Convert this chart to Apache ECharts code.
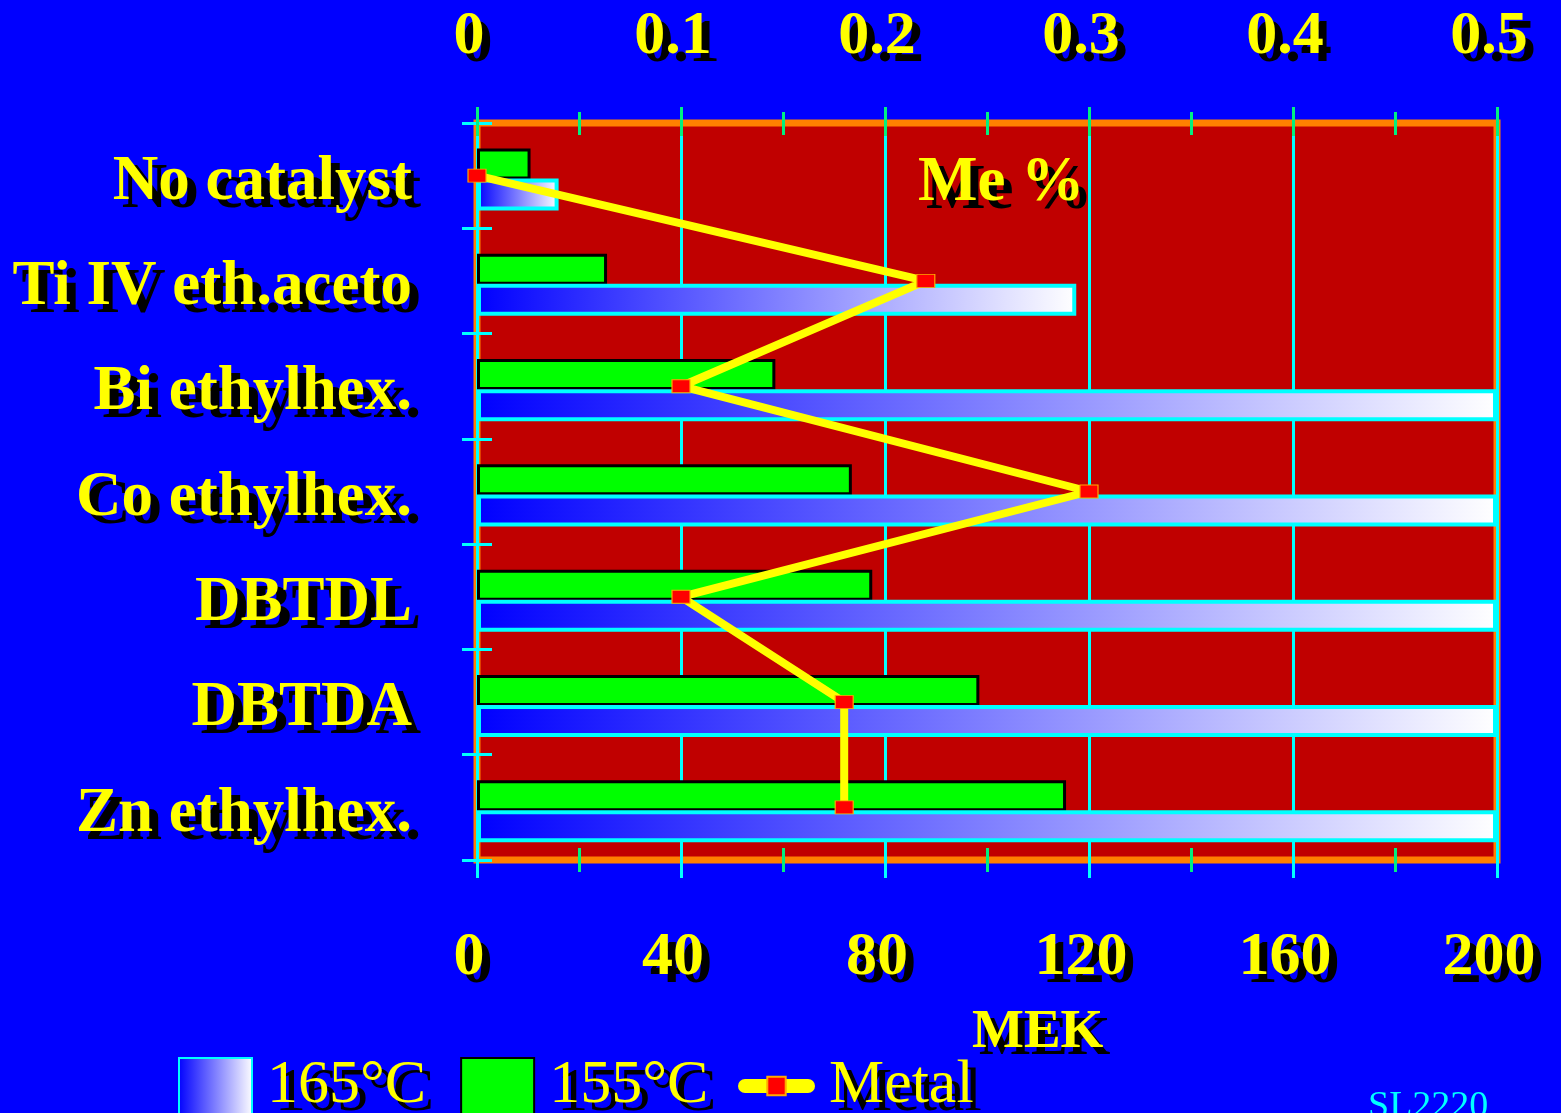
<!DOCTYPE html>
<html><head><meta charset="utf-8">
<script src="https://cdn.jsdelivr.net/npm/echarts@6/dist/echarts.min.js"></script>
<style>html,body{margin:0;padding:0;background:#0000ff;}#c{width:1561px;height:1113px;}</style>
</head><body><div id="c"></div>
<script>
const categories = ['No catalyst','Ti IV eth.aceto','Bi ethylhex.','Co ethylhex.','DBTDL','DBTDA','Zn ethylhex.'];
const mek165 = [16, 117.5, 200, 200, 200, 200, 200];
const mek155 = [10.5, 25.5, 58.5, 73.5, 77.5, 98.5, 115.5];
const metalPct = [0, 0.22, 0.1, 0.3, 0.1, 0.18, 0.18];
const seriesNames = ['165°C', '155°C', 'Metal'];
const spacer = [0, 0, 0, 0, 0, 0, 0];

const FONT = '"Liberation Serif", "Times New Roman", serif';
const YEL = '#ffff00';
const sh = (dx, dy) => ({textShadowColor:'#000', textShadowOffsetX:dx, textShadowOffsetY:dy, textShadowBlur:0.01});
const CYAN = '#00ffff', GRN = '#00f080';

const chart = echarts.init(document.getElementById('c'), null, {renderer:'canvas'});
const hidden = {axisLabel:{show:false}, axisLine:{show:false}, splitLine:{show:false}};
const legendText = Object.assign({fontSize:62, color:YEL, fontFamily:FONT}, sh(8, 8));
const catStyle = Object.assign({fontSize:63, fontWeight:'bold', color:YEL, fontFamily:FONT, lineHeight:66}, sh(9, 8));
chart.setOption({
  backgroundColor:'#0000ff',
  animation:false,
  grid:{left:477, right:64, top:123, bottom:253, show:true, backgroundColor:'#c00000', borderColor:'#ff8000', borderWidth:7},
  legend:[
    {left:178, top:1055, padding:0, itemWidth:73, itemHeight:56, itemGap:34,
     data:[{name:seriesNames[0], icon:'rect'}, {name:seriesNames[1], icon:'rect'}],
     textStyle:Object.assign({padding:[0,0,0,10]}, legendText)},
    {left:738, top:1055, padding:0, itemWidth:63, itemHeight:23,
     data:[{name:seriesNames[2]}],
     lineStyle:{width:14, cap:'round'},
     textStyle:Object.assign({padding:[0,0,0,16]}, legendText)}
  ],
  xAxis:[
    {type:'value', position:'bottom', min:0, max:200, interval:40,
     axisLine:{show:false},
     axisTick:{show:true, length:18, lineStyle:{color:CYAN, width:3}},
     minorTick:{show:true, splitNumber:2, length:12, lineStyle:{color:GRN, width:3}},
     splitLine:{show:true, lineStyle:{color:CYAN, width:3}},
     axisLabel:Object.assign({fontSize:62, fontWeight:'bold', color:YEL, fontFamily:FONT, margin:67, padding:[0,16,0,0]}, sh(8, 8))},
    {type:'value', position:'top', min:0, max:0.5, interval:0.1,
     axisLine:{show:false},
     axisTick:{show:true, length:16, lineStyle:{color:GRN, width:3}},
     minorTick:{show:true, splitNumber:2, length:11, lineStyle:{color:GRN, width:3}},
     splitLine:{show:false},
     axisLabel:Object.assign({fontSize:62, fontWeight:'bold', color:YEL, fontFamily:FONT, margin:55, padding:[0,16,0,0]}, sh(8, 8))},
    Object.assign({type:'value', position:'top', min:0, max:200, interval:40,
     axisTick:{show:true, inside:true, length:13, lineStyle:{color:GRN, width:3}},
     minorTick:{show:true, splitNumber:2, length:12, lineStyle:{color:GRN, width:3}}}, hidden),
    Object.assign({type:'value', position:'bottom', min:0, max:200, interval:40,
     axisTick:{show:true, inside:true, length:17, lineStyle:{color:CYAN, width:3}},
     minorTick:{show:true, splitNumber:2, length:12, lineStyle:{color:GRN, width:3}}}, hidden)
  ],
  yAxis:[
    {type:'category', data:categories, inverse:true, position:'left',
     axisLine:{show:false},
     axisTick:{show:true, length:15, lineStyle:{color:CYAN, width:3}},
     splitLine:{show:false},
     axisLabel:Object.assign({margin:65,
       formatter:(v) => '{s| }\n{t|' + v + '}',
       rich:{s:{fontSize:10, lineHeight:14, height:14}, t:catStyle}}, catStyle)},
    Object.assign({type:'category', data:categories, inverse:true, position:'left',
     axisTick:{show:true, inside:true, length:15, lineStyle:{color:CYAN, width:3}}}, hidden)
  ],
  series:[
    {name:'spacer', type:'bar', xAxisIndex:0, yAxisIndex:0, data:spacer, barWidth:8, barGap:'-3%', silent:true,
     itemStyle:{color:'rgba(0,0,0,0)', borderWidth:0}},
    {name:seriesNames[1], type:'bar', xAxisIndex:0, yAxisIndex:0, data:mek155, barWidth:31,
     itemStyle:{color:'#00ff00', borderColor:'#000', borderWidth:3}},
    {name:seriesNames[0], type:'bar', xAxisIndex:0, yAxisIndex:0, data:mek165, barWidth:32,
     itemStyle:{color:new echarts.graphic.LinearGradient(0,0,1,0,[{offset:0,color:'#0000ff'},{offset:1,color:'#ffffff'}]),
       borderColor:CYAN, borderWidth:4}},
    {name:seriesNames[2], type:'line', xAxisIndex:1, yAxisIndex:0, data:metalPct, z:5,
     lineStyle:{color:YEL, width:8}, symbol:'rect', symbolSize:[18,13],
     itemStyle:{color:'#ff0000', borderColor:'#ffaa00', borderWidth:1}}
  ],
  graphic:[
    {type:'text', left:918, top:152, z:10, style:Object.assign({text:'Me %', fontSize:63, fontWeight:'bold', fill:YEL, fontFamily:FONT}, sh(8, 8))},
    {type:'text', left:972, top:1005, z:10, style:Object.assign({text:'MEK', fontSize:55, fontWeight:'bold', fill:YEL, fontFamily:FONT}, sh(7, 7))},
    {type:'text', left:1368, top:1088, z:10, style:{text:'SL2220', fontSize:38, fill:CYAN, fontFamily:FONT}}
  ]
});
</script></body></html>
